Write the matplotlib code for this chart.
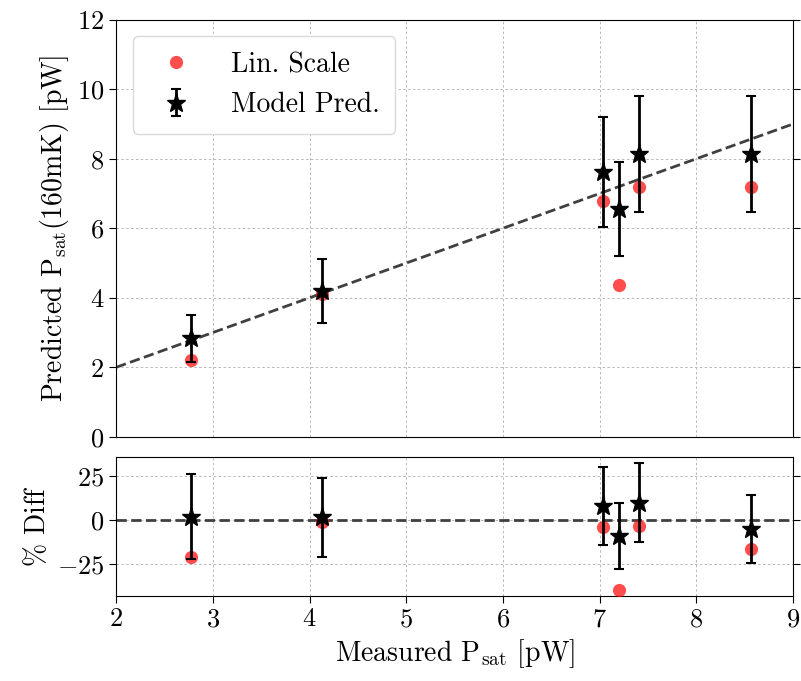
import matplotlib
matplotlib.use("Agg")
import matplotlib.pyplot as plt
import numpy as np

plt.rcParams["font.family"] = "serif"
plt.rcParams["font.serif"] = ["cmr10"]
plt.rcParams["mathtext.fontset"] = "cm"
plt.rcParams["axes.formatter.use_mathtext"] = True
plt.rcParams["axes.unicode_minus"] = True

# measured saturation power and the two predictions at 160 mK [pW]
p_meas = np.array([2.77, 4.13, 7.04, 7.20, 7.41, 8.57])
p_lin = np.array([2.20, 4.10, 6.78, 4.37, 7.18, 7.18])
p_model = np.array([2.83, 4.20, 7.62, 6.55, 8.15, 8.15])
p_model_err = np.array([0.67, 0.93, 1.57, 1.35, 1.67, 1.67])

diff_lin = 100 * (p_lin / p_meas - 1)
diff_model = 100 * (p_model / p_meas - 1)
diff_model_err = 100 * p_model_err / p_meas

fig, (ax, axd) = plt.subplots(2, 1, figsize=(8.01, 6.81), dpi=100, sharex=True,
                              gridspec_kw={"height_ratios": [3, 1], "hspace": 0.072})
fig.subplots_adjust(left=0.145, right=0.99, top=0.971, bottom=0.125)

red = "red"
grid_kw = dict(ls=(0, (2.5, 2.5)), color="0.72", lw=0.7)

ax.plot(p_meas, p_lin, "o", color=red, alpha=0.7, ms=9.5, mec="none",
        label="Lin. Scale", zorder=3)
ax.errorbar(p_meas, p_model, yerr=p_model_err, fmt="*", color="k", ms=14,
            elinewidth=2, capsize=3.5, capthick=1.5, label="Model Pred.", zorder=4)
xx = np.array([2, 9])
ax.plot(xx, xx, "--", color="0.25", lw=2, zorder=2)

ax.set_xlim(2, 9)
ax.set_ylim(0, 12)
ax.set_ylabel(r"Predicted P$_{\rm sat}$(160mK) [pW]", fontsize=20)
ax.grid(True, **grid_kw)
ax.tick_params(labelsize=19, right=True, bottom=False, direction="out", length=5)
ax.legend(loc="upper left", fontsize=20, borderpad=0.55, handletextpad=1.0,
          framealpha=1, edgecolor="0.85", fancybox=True, borderaxespad=0.6)

axd.plot(p_meas, diff_lin, "o", color=red, alpha=0.7, ms=9.5, mec="none", zorder=3)
axd.errorbar(p_meas, diff_model, yerr=diff_model_err, fmt="*", color="k", ms=14,
             elinewidth=2, capsize=3.5, capthick=1.5, zorder=4)
axd.axhline(0, ls="--", color="0.25", lw=2, zorder=2)
axd.set_yticks([-25, 0, 25])
axd.set_ylabel(r"$\%$ Diff", fontsize=20)
axd.set_xlabel(r"Measured P$_{\rm sat}$ [pW]", fontsize=20)
axd.grid(True, **grid_kw)
axd.tick_params(labelsize=19, right=True, direction="out", length=5)

fig.savefig("out.png", dpi=100)
